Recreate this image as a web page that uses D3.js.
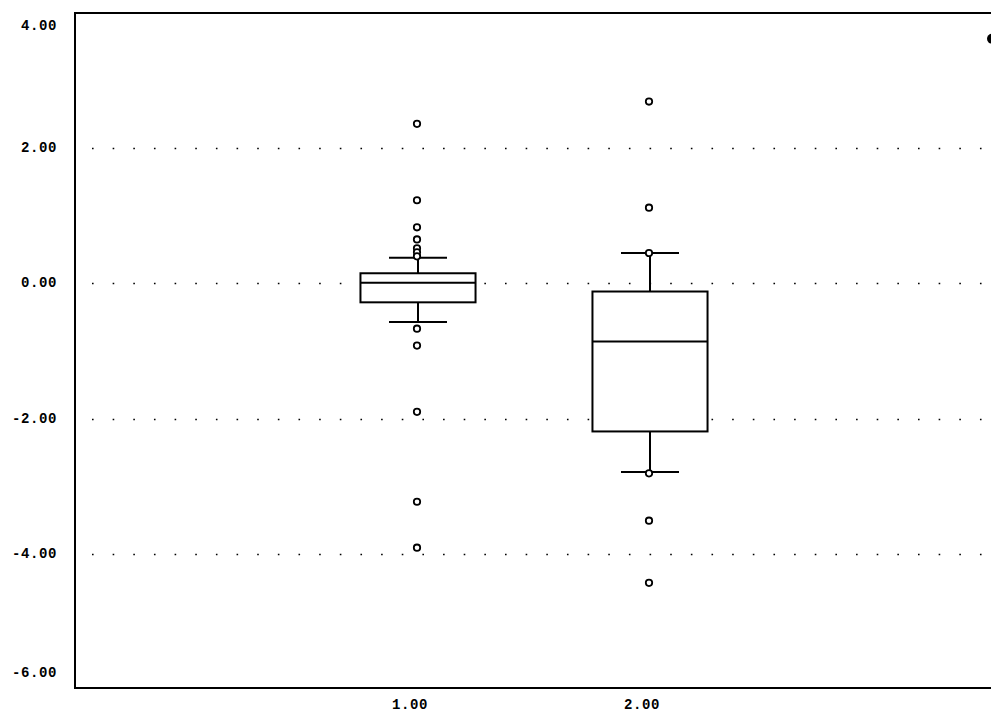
<!DOCTYPE html>
<html>
<head>
<meta charset="utf-8">
<script src="https://cdn.jsdelivr.net/npm/d3@7"></script>
<style>
  html, body { margin: 0; padding: 0; background: #fff; }
  svg { display: block; }
  text { font-family: "Liberation Mono", "DejaVu Sans Mono", monospace; font-weight: bold; font-size: 14px; fill: #000; }
</style>
</head>
<body>
<svg id="chart" width="991" height="712"></svg>
<script>
// ---- data ----
const categories = [1, 2];
const categoryLabels = ["1.00", "2.00"];
const q1Values = [-0.28, -2.19];
const medianValues = [0.01, -0.86];
const q3Values = [0.15, -0.12];
const whiskerLow = [-0.57, -2.79];
const whiskerHigh = [0.38, 0.45];
const outliers1 = [2.36, 1.23, 0.83, 0.65, 0.52, 0.46, 0.40, -0.67, -0.92, -1.90, -3.23, -3.91];
const outliers2 = [2.69, 1.12, 0.45, -2.81, -3.51, -4.43];
const yTicks = [4, 2, 0, -2, -4, -6];
const yTickLabels = ["4.00", "2.00", "0.00", "-2.00", "-4.00", "-6.00"];
const gridValues = [2, 0, -2, -4];

const outlierSets = [outliers1, outliers2];

// ---- layout ----
const svg = d3.select("#chart");
const pLeft = 75, pTop = 13, pBottom = 689, pRight = 991;

const y = d3.scaleLinear().domain([-6, 4]).range([pBottom, pTop]);
const x = d3.scaleLinear().domain([1, 2]).range([418, 650]);
const boxHalf = x(1.248) - x(1);   // half box width in px via scale
const capHalf = x(1.125) - x(1);

// grid (dotted)
svg.append("g").selectAll("line").data(gridValues).join("line")
  .attr("x1", 92).attr("x2", pRight)
  .attr("y1", d => Math.round(y(d)) + 0.5).attr("y2", d => Math.round(y(d)) + 0.5)
  .attr("stroke", "#000").attr("stroke-width", 1.6)
  .attr("stroke-dasharray", "1.6 19.05");

// frame
svg.append("line").attr("x1", pLeft).attr("x2", pRight).attr("y1", pTop).attr("y2", pTop)
  .attr("stroke", "#000").attr("stroke-width", 2);
svg.append("line").attr("x1", pLeft).attr("x2", pRight).attr("y1", pBottom - 1).attr("y2", pBottom - 1)
  .attr("stroke", "#000").attr("stroke-width", 2);
svg.append("line").attr("x1", pLeft).attr("x2", pLeft).attr("y1", pTop - 1).attr("y2", pBottom)
  .attr("stroke", "#000").attr("stroke-width", 2);

// y tick labels
svg.append("g").selectAll("text").data(yTicks).join("text")
  .attr("x", 57)
  .attr("y", (d, i) => y(d) + (i === 0 ? 13 : (i === yTicks.length - 1 ? -16 : 0)))
  .attr("text-anchor", "end")
  .attr("dominant-baseline", "central")
  .attr("letter-spacing", "0.6")
  .text((d, i) => yTickLabels[i]);

// x tick labels
svg.append("g").selectAll("text").data(categories).join("text")
  .attr("x", d => x(d) - 8)
  .attr("y", 705)
  .attr("text-anchor", "middle")
  .attr("dominant-baseline", "central")
  .attr("letter-spacing", "0.6")
  .text((d, i) => categoryLabels[i]);

// boxes
const g = svg.append("g").attr("stroke", "#000").attr("stroke-width", 2).attr("fill", "none");
categories.forEach((c, i) => {
  const cx = x(c);
  // whiskers
  g.append("line").attr("x1", cx).attr("x2", cx).attr("y1", y(q3Values[i])).attr("y2", y(whiskerHigh[i]));
  g.append("line").attr("x1", cx).attr("x2", cx).attr("y1", y(q1Values[i])).attr("y2", y(whiskerLow[i]));
  g.append("line").attr("x1", cx - capHalf).attr("x2", cx + capHalf).attr("y1", y(whiskerHigh[i])).attr("y2", y(whiskerHigh[i]));
  g.append("line").attr("x1", cx - capHalf).attr("x2", cx + capHalf).attr("y1", y(whiskerLow[i])).attr("y2", y(whiskerLow[i]));
  // box
  g.append("rect").attr("x", cx - boxHalf).attr("width", 2 * boxHalf)
    .attr("y", y(q3Values[i])).attr("height", y(q1Values[i]) - y(q3Values[i]))
    .attr("fill", "#fff");
  g.append("line").attr("x1", cx - boxHalf).attr("x2", cx + boxHalf)
    .attr("y1", y(medianValues[i])).attr("y2", y(medianValues[i]));
  // outliers
  g.append("g").selectAll("circle").data(outlierSets[i]).join("circle")
    .attr("cx", cx - 1).attr("cy", d => y(d)).attr("r", 3.2)
    .attr("fill", "#fff").attr("stroke-width", 1.8);
});

// clipped marker at top right edge
svg.append("circle").attr("cx", 992).attr("cy", y(3.62)).attr("r", 5).attr("fill", "#000");
</script>
</body>
</html>
